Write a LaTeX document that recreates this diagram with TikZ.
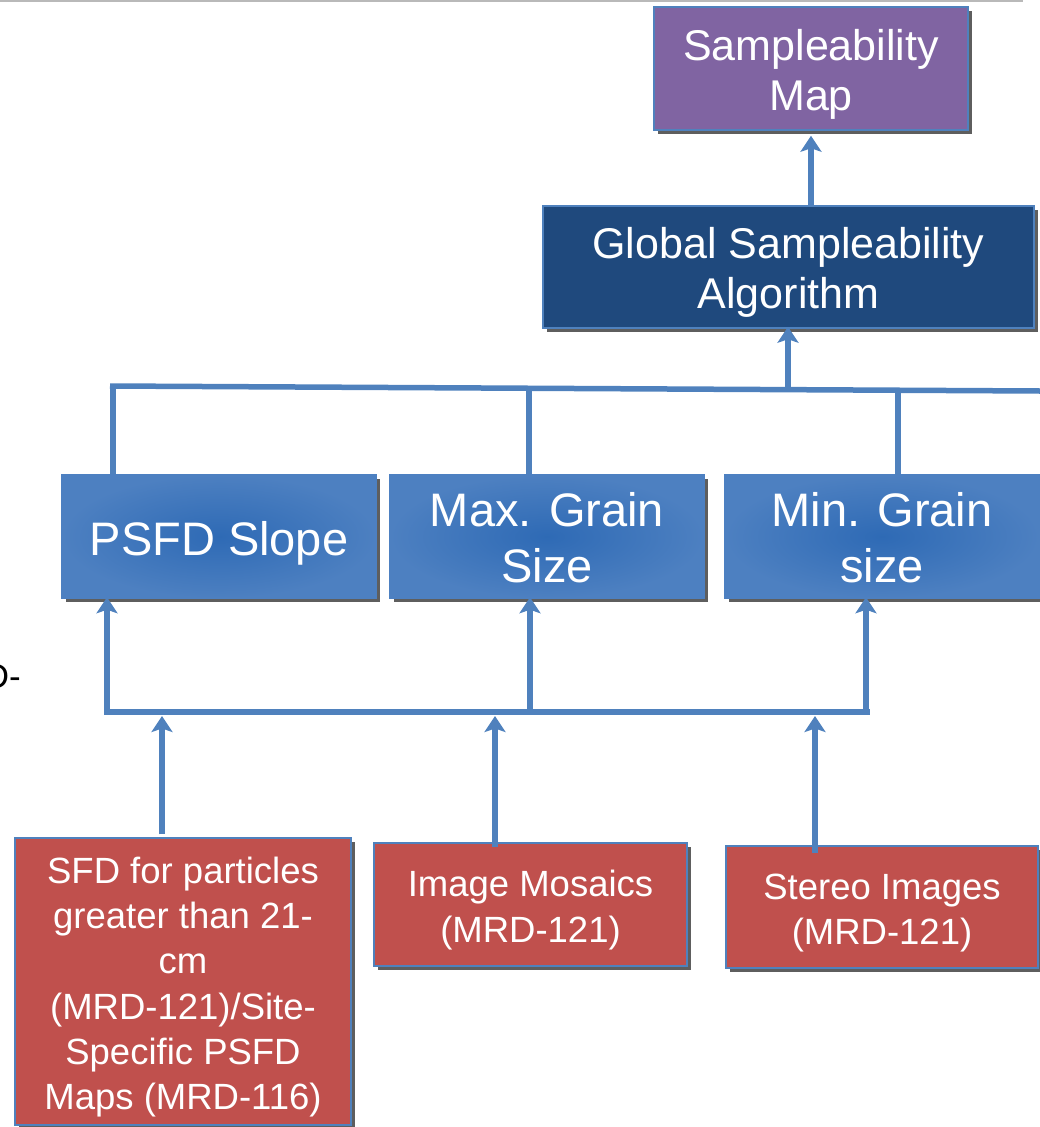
\documentclass[tikz,border=0pt]{standalone}
\usepackage{fontspec}
\setmainfont{Liberation Sans}
\usetikzlibrary{arrows.meta,shadows,calc}
\definecolor{lineblue}{HTML}{4F81BD}
\definecolor{mappurple}{HTML}{8064A2}
\definecolor{algblue}{HTML}{1F497D}
\definecolor{srcred}{HTML}{C0504D}
\definecolor{midin}{HTML}{2E6AB5}
\definecolor{midout}{HTML}{4D80C1}
\definecolor{shadowgray}{HTML}{5E5E5E}
\newcommand{\boxlines}[2]{\raisebox{-#1}[\height][\depth]{\begin{tabular}{@{}c@{}}#2\end{tabular}}}
\tikzset{
  basebox/.style={draw=lineblue, line width=1.5pt, inner sep=0pt, align=center, text=white,
    drop shadow={shadow xshift=4pt, shadow yshift=-4pt, fill=shadowgray, opacity=1}},
  mapbox/.style={basebox, fill=mappurple, minimum width=314pt, minimum height=123pt,
    font=\fontsize{43pt}{50pt}\selectfont},
  algbox/.style={basebox, fill=algblue, minimum width=491pt, minimum height=122pt,
    font=\fontsize{43pt}{50pt}\selectfont},
  midbox/.style={basebox, draw=midout, inner color=midin, outer color=midout,
    minimum width=314pt, minimum height=123pt, font=\fontsize{47pt}{56pt}\selectfont},
  srcbox/.style={basebox, fill=srcred, font=\fontsize{36.5pt}{45.2pt}\selectfont},
  conn/.style={draw=lineblue, line width=5.5pt},
  arr/.style={conn, -{Stealth[length=16pt,width=21pt,inset=3.5pt]}},
}
\begin{document}
\begin{tikzpicture}[x=1pt,y=-1pt]
\useasboundingbox (0,0) rectangle (1040,1127);
\begin{scope}
\clip (0,0) rectangle (1040,1127);
% top rule
\draw[gray!55, line width=2pt] (0,1) coordinate (rl) -- (1023,1) coordinate (rr);
% clipped fragment of text at the left
\node[anchor=base east, inner sep=0pt, font=\fontsize{35pt}{42pt}\selectfont] (frag) at (21,688) {D-};

% nodes
\node[mapbox] (map) at (811,68.5) {\boxlines{7pt}{Sampleability\\Map}};
\node[algbox] (alg) at (788.5,267) {\boxlines{6pt}{Global Sampleability\\Algorithm}};
\node[midbox] (psfd) at (219,536.5) {\boxlines{8pt}{PSFD Slope}};
\node[midbox] (maxg) at (547,536.5) {\boxlines{7pt}{Max. Grain\\Size}};
\node[midbox] (ming) at (882,536.5) {\boxlines{7pt}{Min. Grain\\size}};
\node[srcbox, minimum width=336pt, minimum height=287pt] (sfd) at (183,981.5)
  {\boxlines{6pt}{SFD for particles\\greater than 21-\\cm\\(MRD-121)/Site-\\Specific PSFD\\Maps (MRD-116)}};
\node[srcbox, minimum width=313pt, minimum height=123pt] (mos) at (530.5,904.5)
  {\boxlines{6pt}{Image Mosaics\\(MRD-121)}};
\node[srcbox, minimum width=312pt, minimum height=122pt] (ste) at (882,907)
  {\boxlines{6pt}{Stereo Images\\(MRD-121)}};

% upper bus
\coordinate (tl) at (110,386);
\coordinate (tr) at (1040,391);
\coordinate (t1) at (113,386);
\coordinate (t2) at (529,388.3);
\coordinate (t3) at (898,390.2);
\coordinate (t4) at (788,389.6);
\draw[conn] (tl) -- (tr);
\draw[conn] (psfd.north -| t1) -- (t1);
\draw[conn] (maxg.north -| t2) -- (t2);
\draw[conn] (ming.north -| t3) -- (t3);
\draw[arr, shorten >=-2pt] (t4) -- (alg.south -| t4);
\draw[arr, shorten >=5pt] (map.south |- alg.north) -- (map.south);

% lower bus
\coordinate (bl) at (104,712);
\coordinate (br) at (870,712);
\coordinate (b1) at (107,712);
\coordinate (b2) at (530,712);
\coordinate (b3) at (866,712);
\draw[conn] (bl) -- (br);
\draw[arr, shorten >=-1.5pt] (b1) -- (psfd.south -| b1);
\draw[arr, shorten >=-1.5pt] (b2) -- (maxg.south -| b2);
\draw[arr, shorten >=-1.5pt] (b3) -- (ming.south -| b3);
\coordinate (s1) at (162,712);
\coordinate (s2) at (495,712);
\coordinate (s3) at (815,712);
\draw[arr, shorten <=3pt, shorten >=4pt] (sfd.north -| s1) -- (s1);
\draw[arr, shorten <=-5pt, shorten >=4pt] (mos.north -| s2) -- (s2);
\draw[arr, shorten <=-8pt, shorten >=4pt] (ste.north -| s3) -- (s3);
\end{scope}
\end{tikzpicture}
\end{document}
